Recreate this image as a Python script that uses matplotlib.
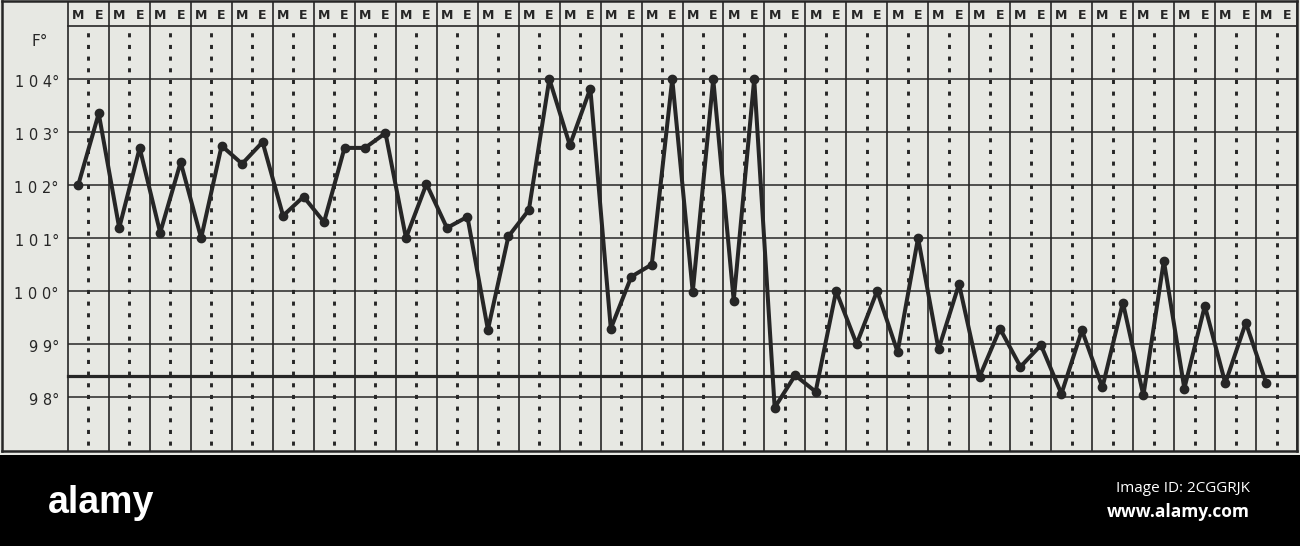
import numpy as np
import matplotlib
matplotlib.use("Agg")
import matplotlib.pyplot as plt
from matplotlib.patches import Rectangle

# Morning (M) and evening (E) temperatures, degrees Fahrenheit, for 30 days
morning = [102.0, 101.19, 101.1, 101.0, 102.4, 101.42, 101.3, 102.7, 101.0, 101.19,
           99.27, 101.53, 102.75, 99.29, 100.5, 99.98, 99.82, 97.8, 98.1, 99.0,
           98.85, 98.9, 98.38, 98.57, 98.06, 98.18, 98.03, 98.16, 98.26, 98.26]
evening = [103.35, 102.7, 102.43, 102.74, 102.81, 101.78, 102.7, 102.98, 102.02, 101.4,
           101.03, 104.0, 103.82, 100.27, 104.0, 104.0, 104.0, 98.41, 100.0, 100.0,
           101.0, 100.13, 99.29, 98.98, 99.26, 99.78, 100.57, 99.72, 99.4, np.nan]
header_labels = ["M", "E"]
degree_ticks = [98, 99, 100, 101, 102, 103, 104]
degree_labels = ["9 8°", "9 9°", "1 0 0°", "1 0 1°", "1 0 2°", "1 0 3°", "1 0 4°"]
normal_temp = 98.4
n_days = len(morning)

bg = "#e7e8e3"
ink = "#262626"

W, H = 1300, 546
fig = plt.figure(figsize=(W / 100, H / 100), dpi=100, facecolor=bg)


def fx(px):
    return px / W


def fy(py):
    return 1 - py / H


# black footer strip
fig.patches.append(Rectangle((0, 0), 1, fy(455), transform=fig.transFigure,
                             facecolor="black", edgecolor="none", zorder=0))

# chart frame in pixel terms: day grid starts at x=68, one day = 40.97 px, one degree = 53 px
left_px, right_px, top_px, bot_px = 2, 1297, 1, 451
x0_px, day_px = 68, (1297 - 68) / n_days
y104_px, deg_px = 79, 53.0

ax = fig.add_axes([fx(left_px), fy(bot_px), fx(right_px) - fx(left_px), fy(top_px) - fy(bot_px)])
ax.set_zorder(2)
ax.set_facecolor(bg)
ax.set_xlim((left_px - x0_px) / day_px, n_days)
ytop = 104 + (y104_px - top_px) / deg_px
ybot = 104 - (bot_px - y104_px) / deg_px
ax.set_ylim(ybot, ytop)
ax.set_xticks([])
ax.set_yticks([])
for s in ax.spines.values():
    s.set_color(ink)
    s.set_linewidth(1.8)

# horizontal degree lines and header divider
for t in degree_ticks:
    ax.plot([0, n_days], [t, t], color=ink, lw=1.1, solid_capstyle="butt", zorder=2)
ax.plot([0, n_days], [105, 105], color=ink, lw=1.2, zorder=2)

# day separators
for d in range(n_days + 1):
    ax.plot([d, d], [ybot, ytop], color=ink, lw=1.2, zorder=2)

# dotted mid-day lines
for d in range(n_days):
    ax.plot([d + 0.5, d + 0.5], [ybot, 105], color=ink, lw=2.1,
            linestyle=(2, (1.4, 2.6)), dash_capstyle="butt", zorder=2)

# normal temperature line
ax.plot([0, n_days], [normal_temp, normal_temp], color=ink, lw=2.3, zorder=3)

# header M / E
for d in range(n_days):
    for k, lab in enumerate(header_labels):
        ax.text(d + 0.25 + 0.5 * k, 105.19, lab, ha="center", va="center",
                fontsize=9, fontweight="semibold", color=ink, zorder=4)

# degree labels
ax.text((40 - x0_px) / day_px, 104.7, "F°", ha="center", va="center",
        fontsize=11, color=ink)
for t, lab in zip(degree_ticks, degree_labels):
    ax.text((59 - x0_px) / day_px, t - 0.06, lab, ha="right", va="center",
            fontsize=10.5, color=ink)

# temperature curve
temps = np.ravel(np.column_stack([morning, evening]))
xs = np.arange(len(temps)) * 0.5 + 0.25
ok = ~np.isnan(temps)
ax.plot(xs[ok], temps[ok], color=ink, lw=2.9, marker="o", markersize=6,
        markerfacecolor=ink, markeredgecolor=ink, zorder=5)

# footer strip text
fig.text(fx(48), fy(503), "alamy", ha="left", va="center", color="white",
         fontsize=27, fontweight="bold", family=["Liberation Sans", "DejaVu Sans"])
fig.text(fx(1250), fy(488), "Image ID: 2CGGRJK", ha="right", va="center", color="white",
         fontsize=11, family=["Open Sans", "DejaVu Sans"])
fig.text(fx(1250), fy(512), "www.alamy.com", ha="right", va="center", color="white",
         fontsize=12.5, fontweight="bold", family=["Open Sans", "DejaVu Sans"])

fig.savefig("out.png", dpi=100, facecolor=bg)
